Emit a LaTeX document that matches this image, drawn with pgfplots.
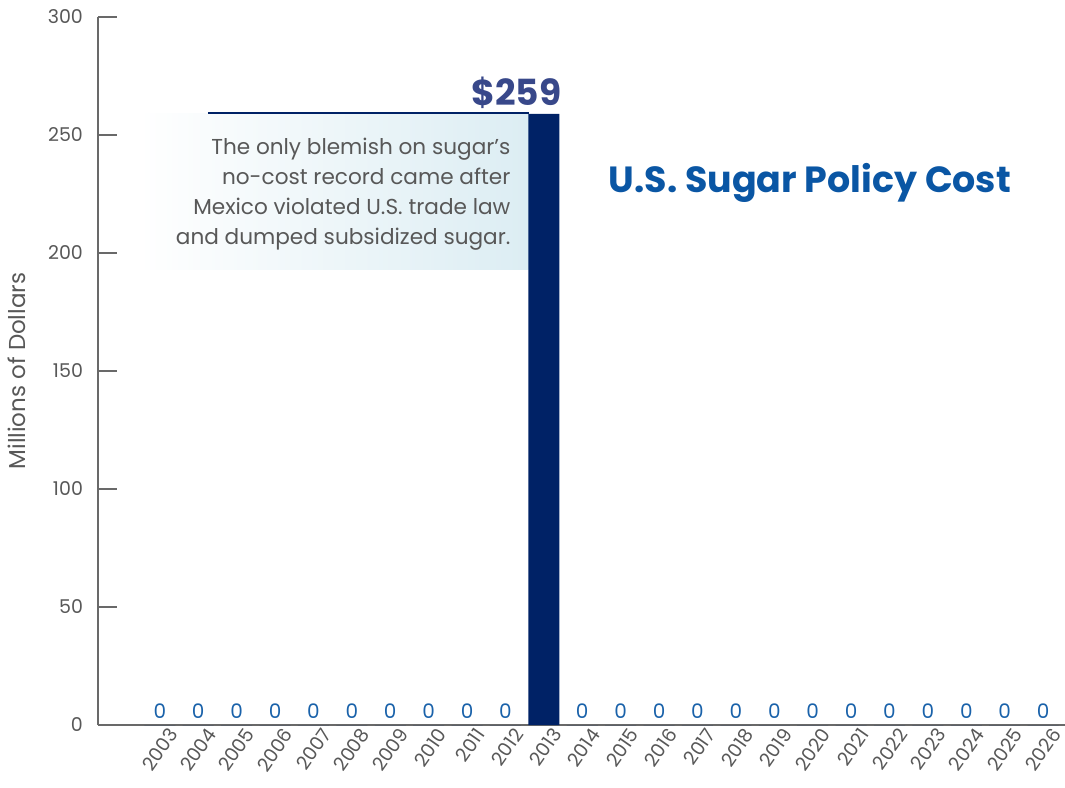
\documentclass[border=0pt]{standalone}
\usepackage{pgfplots}
\pgfplotsset{compat=1.18}
\usepackage{fontspec}
\setmainfont{Poppins}
\definecolor{barnavy}{RGB}{0,34,102}
\definecolor{labnavy}{RGB}{56,72,138}
\definecolor{titleblue}{RGB}{10,86,164}
\definecolor{zeroblue}{RGB}{26,98,170}
\definecolor{txtgray}{RGB}{88,88,88}
\definecolor{axgray}{RGB}{105,105,105}
\definecolor{boxblue}{RGB}{220,237,243}
\begin{document}
\begin{tikzpicture}
\path[use as bounding box] (-49pt,-31pt) rectangle (483.5pt,362.5pt);
\begin{axis}[
  scale only axis,
  width=483.5pt, height=354pt,
  xmin=-1.61, xmax=23.57,
  ymin=0, ymax=300,
  axis x line=bottom, axis y line=left,
  axis line style={axgray, line width=0.8pt, -},
  ytick={0,50,...,300},
  xtick={0,...,23},
  xticklabels={2003,2004,2005,2006,2007,2008,2009,2010,2011,2012,2013,2014,2015,2016,2017,2018,2019,2020,2021,2022,2023,2024,2025,2026},
  xtick style={draw=none},
  ytick style={axgray, line width=0.8pt},
  tick align=inside,
  major tick length=9.5pt,
  /pgf/number format/assume math mode=true,
  tick label style={font=\fontsize{9.5}{11}\selectfont, text=txtgray},
  xticklabel style={rotate=55, anchor=east, xshift=5pt, yshift=-7pt},
  yticklabel style={xshift=-4pt},
  ylabel={Millions of Dollars},
  ylabel style={font=\fontsize{11.5}{13}\selectfont, text=txtgray, yshift=4pt},
  clip=false,
]
% annotation box
\shade[left color=white, right color=boxblue] (axis cs:-0.55,192.8) rectangle (axis cs:9.6,259.3);
\draw[barnavy, line width=0.6pt] (axis cs:1.25,259.3) -- (axis cs:9.6,259.3);
\node[anchor=north east, align=right, text=txtgray, font=\fontsize{10.8}{15}\selectfont, inner sep=0pt]
  at (axis cs:9.14,248.8) {The only blemish on sugar’s\\no-cost record came after\\Mexico violated U.S. trade law\\and dumped subsidized sugar.};
% bar
\addplot[ybar, bar width=15.5pt, fill=barnavy, draw=none] coordinates {
(0,0) (1,0) (2,0) (3,0) (4,0) (5,0) (6,0) (7,0) (8,0) (9,0) (10,259) (11,0)
(12,0) (13,0) (14,0) (15,0) (16,0) (17,0) (18,0) (19,0) (20,0) (21,0) (22,0) (23,0)};
% zero labels
\addplot[only marks, mark=none,
  nodes near coords={0},
  nodes near coords style={anchor=south, inner sep=0pt, yshift=3pt, text=zeroblue, font=\fontsize{10}{11}\selectfont}]
  coordinates {
(0,0) (1,0) (2,0) (3,0) (4,0) (5,0) (6,0) (7,0) (8,0) (9,0) (11,0)
(12,0) (13,0) (14,0) (15,0) (16,0) (17,0) (18,0) (19,0) (20,0) (21,0) (22,0) (23,0)};
\node[anchor=south east, inner sep=0pt, text=labnavy, font=\bfseries\fontsize{18}{20}\selectfont]
  at (axis cs:10.47,261.2) {\$259};
\node[text=titleblue, font=\bfseries\fontsize{18.2}{20}\selectfont, inner sep=0pt]
  at (axis cs:16.93,229.5) {U.S. Sugar Policy Cost};
\end{axis}
\end{tikzpicture}
\end{document}
